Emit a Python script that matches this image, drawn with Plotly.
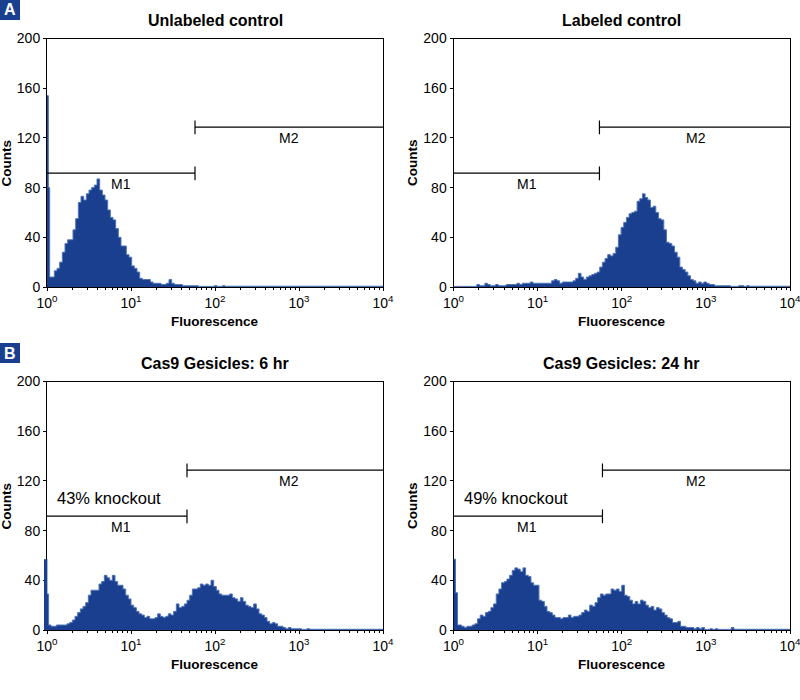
import numpy as np
import plotly.graph_objects as go
from plotly.subplots import make_subplots

# Counts per channel (everything after each list is ~0)
unlabeled = [154, 80, 8, 8, 13, 15, 20, 28, 35, 38, 38, 46, 55, 68, 73, 70, 75, 78, 80, 82, 87, 78, 74, 70, 62,
             56, 54, 47, 40, 33, 33, 26, 24, 17, 15, 12, 7, 6, 6, 6, 4, 3, 3, 3, 2, 2, 3, 6, 3, 2, 2, 2, 1, 1,
             1, 1, 1, 1, 0.5, 0.5, 0.5, 0.5, 0.5, 0.5, 1, 0.5, 0.5, 1]
labeled = [0.5, 0.5, 0.5, 0.5, 0.5, 0.5, 0.5, 0.5, 0.5, 0.5, 2, 1, 1, 3, 2, 1, 1, 2, 1, 1, 1, 2, 2, 2, 2, 3, 2,
           3, 3, 3, 4, 3, 3, 3, 3, 3, 3, 3, 5, 6, 5, 3, 4, 4, 4, 4, 5, 7, 11, 8, 6, 8, 9, 10, 11, 12, 16, 20, 23,
           26, 25, 27, 32, 42, 48, 52, 56, 59, 60, 61, 69, 71, 75, 72, 70, 64, 65, 60, 55, 54, 46, 36, 35, 33, 28,
           24, 16, 14, 12, 9, 6, 5, 3, 4, 3, 4, 3, 2, 2, 1, 1, 1, 1, 1, 1, 0.5, 0.5, 0.5, 1, 1, 0.5, 1]
gesicles_6hr = [57, 29, 4, 3, 3, 4, 4, 4, 4, 5, 6, 8, 11, 14, 17, 19, 22, 28, 32, 32, 32, 37, 39, 44, 42, 40, 44,
                39, 36, 36, 33, 28, 25, 20, 18, 15, 13, 12, 10, 11, 9, 9, 10, 13, 11, 10, 11, 13, 12, 15, 21, 18,
                19, 21, 24, 28, 33, 33, 34, 37, 36, 37, 36, 40, 35, 32, 29, 28, 28, 28, 29, 26, 25, 23, 26, 23, 20,
                19, 18, 21, 17, 13, 12, 10, 7, 5, 6, 5, 3, 3, 2, 1, 2, 1, 1, 1, 1, 0.5, 0.5, 1]
gesicles_24hr = [57, 30, 4, 4, 3, 2, 3, 3, 4, 5, 9, 12, 11, 14, 15, 18, 21, 29, 33, 38, 39, 41, 44, 48, 50, 49, 47,
                 50, 44, 43, 38, 36, 36, 24, 23, 19, 15, 14, 12, 10, 10, 9, 10, 10, 12, 10, 11, 11, 12, 14, 16, 15,
                 20, 19, 22, 26, 29, 28, 29, 29, 33, 32, 33, 31, 36, 28, 27, 24, 21, 23, 21, 24, 23, 20, 18, 19, 16,
                 18, 17, 14, 12, 10, 9, 6, 6, 7, 3, 3, 2, 2, 2, 1, 2, 1, 2, 0.5, 0.5, 1, 0.5, 1, 0.5, 0.5, 0.5, 0.5,
                 0.5, 2]

panel_titles = ["Unlabeled control", "Labeled control", "Cas9 Gesicles: 6 hr", "Cas9 Gesicles: 24 hr"]
panel_counts = [unlabeled, labeled, gesicles_6hr, gesicles_24hr]
gate_edges = [57.8, 54.3, 46.4, 59.0]
notes = [None, None, "43% knockout", "49% knockout"]

x_ticks = [1, 10, 100, 1000, 10000]
x_labels = ["10<sup>0</sup>", "10<sup>1</sup>", "10<sup>2</sup>", "10<sup>3</sup>", "10<sup>4</sup>"]
y_ticks = [0, 40, 80, 120, 160, 200]

BLUE = "#1a3f8f"
FONT = "Liberation Sans"
CHANNELS = 31.5  # channels per decade
LAST_EDGE = 126.4

# left edges of the first three channels (the narrow spike), then how far the rest are offset
spike_edges = [[0, 0.5, 1], [0, 0.5, 1], [-1, 0, 0.6], [0, 0.75, 1.5]]
edge_offsets = [1.25, 1.25, 1.5, 1.0]

# panel boxes in pixels (left, right, top, bottom)
boxes = [(47, 383, 38.5, 287), (453.5, 790, 38.5, 287), (47, 383, 381.5, 630), (453.5, 790, 381.5, 630)]
W, H = 800, 700

fig = make_subplots(rows=2, cols=2)


def channel_x(i):
    ch = spike_edges[i] + [k - edge_offsets[i] for k in range(3, 128)]
    ch = [c for c in ch if c < LAST_EDGE] + [LAST_EDGE]
    return 10 ** (np.array(ch) / CHANNELS)


def paper_text(x_px, y_px, text, size, color="black", angle=0):
    fig.add_annotation(x=x_px / W, y=1 - y_px / H, xref="paper", yref="paper", text=text, showarrow=False,
                       xanchor="center", yanchor="middle", textangle=angle,
                       font=dict(family=FONT, size=size, color=color))


for i, counts in enumerate(panel_counts):
    row, col = i // 2 + 1, i % 2 + 1
    left, right, top, bottom = boxes[i]
    x = channel_x(i)
    y = list(counts) + [0.6] * (len(x) - len(counts))
    fig.add_trace(go.Scatter(x=x, y=y, mode="lines", line=dict(shape="hv", color="#4f74b8", width=1),
                             fill="tozeroy", fillcolor=BLUE, cliponaxis=False, showlegend=False,
                             hoverinfo="skip"), row=row, col=col)

    # gates M1 and M2
    gate = gate_edges[i]
    black = dict(color="black", width=1.2)
    fig.add_trace(go.Scatter(x=[1, gate, None, gate, gate], y=[91.7, 91.7, None, 86, 97], mode="lines",
                             line=black, showlegend=False, hoverinfo="skip"), row=row, col=col)
    fig.add_trace(go.Scatter(x=[gate, 10000, None, gate, gate], y=[128.6, 128.6, None, 123, 134], mode="lines",
                             line=black, showlegend=False, hoverinfo="skip"), row=row, col=col)

    xname = "x" if i == 0 else f"x{i + 1}"
    yname = "y" if i == 0 else f"y{i + 1}"
    fig.add_annotation(x=0.875, y=82.6, xref=xname, yref=yname, text="M1", showarrow=False,
                       font=dict(family=FONT, size=14, color="black"))
    fig.add_annotation(x=2.885, y=120.2, xref=xname, yref=yname, text="M2", showarrow=False,
                       font=dict(family=FONT, size=14, color="black"))
    if notes[i]:
        fig.add_annotation(x=0.74, y=106, xref=xname, yref=yname, text=notes[i], showarrow=False,
                           font=dict(family=FONT, size=16.5, color="black"))

    mid = (left + right) / 2
    paper_text(mid, top - 18, f"<b>{panel_titles[i]}</b>", 16)
    paper_text(mid, bottom + 34, "<b>Fluorescence</b>", 13.5)
    paper_text(left - 41.5, bottom - 124, "<b>Counts</b>", 13.5, angle=-90)

    fig.update_xaxes(type="log", range=[0, 4], domain=[left / W, right / W], tickvals=x_ticks, ticktext=x_labels,
                     ticks="outside", ticklen=3, tickcolor="black", tickwidth=1, automargin=False,
                     minor=dict(ticks="outside", ticklen=2, tickcolor="black", tickwidth=1, dtick="D1", showgrid=False),
                     showgrid=False, zeroline=False, showline=True, linecolor="black", linewidth=1, mirror=True,
                     layer="below traces", ticklabeloverflow="allow",
                     tickfont=dict(family=FONT, size=14, color="black"), row=row, col=col)
    fig.update_yaxes(range=[0, 200], domain=[1 - bottom / H, 1 - top / H], tickvals=y_ticks, ticks="outside",
                     ticklen=3, tickcolor="black", tickwidth=1, showgrid=False, zeroline=False, showline=True,
                     automargin=False, linecolor="black", linewidth=1, mirror=True, layer="below traces",
                     tickfont=dict(family=FONT, size=14, color="black"), row=row, col=col)

# the 6 hr spike sits just left of the axis, where the trace gets clipped
left, right, top, bottom = boxes[2]
spike_top = bottom - gesicles_6hr[0] * (bottom - top) / 200
fig.add_shape(type="rect", xref="paper", yref="paper", x0=(left - 3) / W, x1=left / W, y0=1 - bottom / H,
              y1=1 - spike_top / H, fillcolor=BLUE, line_width=0)

# section badges
for letter, y0 in [("A", 0), ("B", 343)]:
    fig.add_shape(type="rect", xref="paper", yref="paper", x0=0, x1=20 / W, y0=1 - (y0 + 20) / H, y1=1 - y0 / H,
                  fillcolor=BLUE, line_width=0)
    paper_text(10, y0 + 10, f"<b>{letter}</b>", 16, color="white")

fig.update_layout(width=W, height=H, margin=dict(l=0, r=0, t=0, b=0, autoexpand=False), plot_bgcolor="white",
                  paper_bgcolor="white", showlegend=False)

# page has a default body margin that would push the figure off the window
fig.write_html("out.html", config={"displayModeBar": False}, post_script="document.body.style.margin='0';")
